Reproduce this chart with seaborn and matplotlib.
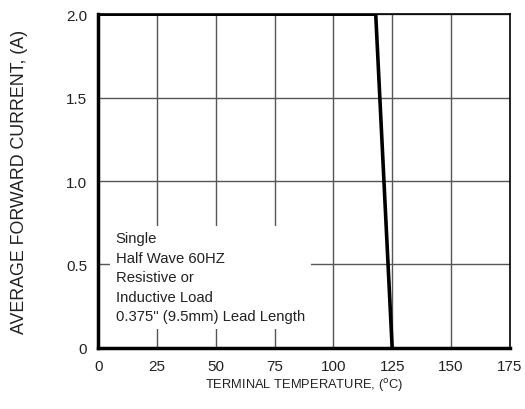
import matplotlib
matplotlib.use("Agg")
import matplotlib.pyplot as plt
import matplotlib.font_manager as fm
import seaborn as sns
import pandas as pd

sns.set_style("white")

# fonte estreita se existir
nomes = {f.name for f in fm.fontManager.ttflist}
fonte = "Liberation Sans Narrow" if "Liberation Sans Narrow" in nomes else "Liberation Sans"
plt.rcParams["font.family"] = [fonte, "DejaVu Sans"]

# Curva de derating
temperatura = [0, 118, 125]
corrente = [2.0, 2.0, 0.0]

x_ticks = [0, 25, 50, 75, 100, 125, 150, 175]
y_ticks = [0, 0.5, 1.0, 1.5, 2.0]
y_labels = ["0", "0.5", "1.0", "1.5", "2.0"]

df = pd.DataFrame({"temp": temperatura, "corrente": corrente})

fig = plt.figure(figsize=(5.25, 4.1), dpi=100)
ax = fig.add_axes([0.187, 0.149, 0.784, 0.814])

sns.lineplot(data=df, x="temp", y="corrente", color="black", linewidth=2.6, ax=ax, zorder=5)

ax.set_xlim(0, 175)
ax.set_ylim(0, 2.0)
ax.set_xticks(x_ticks)
ax.set_yticks(y_ticks)
ax.set_yticklabels(y_labels)
ax.grid(True, color="#555555", linewidth=1.0)
ax.tick_params(axis="both", length=0, labelsize=11, pad=8, colors="#222222")

for lado in ["left", "bottom"]:
    ax.spines[lado].set_linewidth(2.5)
    ax.spines[lado].set_color("black")
for lado in ["top", "right"]:
    ax.spines[lado].set_linewidth(1.2)
    ax.spines[lado].set_color("black")

ax.set_xlabel("TERMINAL TEMPERATURE, ($^{\\rm o}$C)", fontsize=9.3, labelpad=2, color="#222222")
ax.set_ylabel("AVERAGE FORWARD CURRENT, (A)", fontsize=12.8, labelpad=27, color="#222222")

ax.text(
    7.5, 0.70,
    "Single\nHalf Wave 60HZ\nResistive or\nInductive Load\n0.375\" (9.5mm) Lead Length",
    fontsize=10.7, va="top", ha="left", linespacing=1.5, color="#222222",
    bbox=dict(facecolor="white", edgecolor="none", pad=4),
    zorder=4,
)

fig.savefig("out.png", dpi=100)
